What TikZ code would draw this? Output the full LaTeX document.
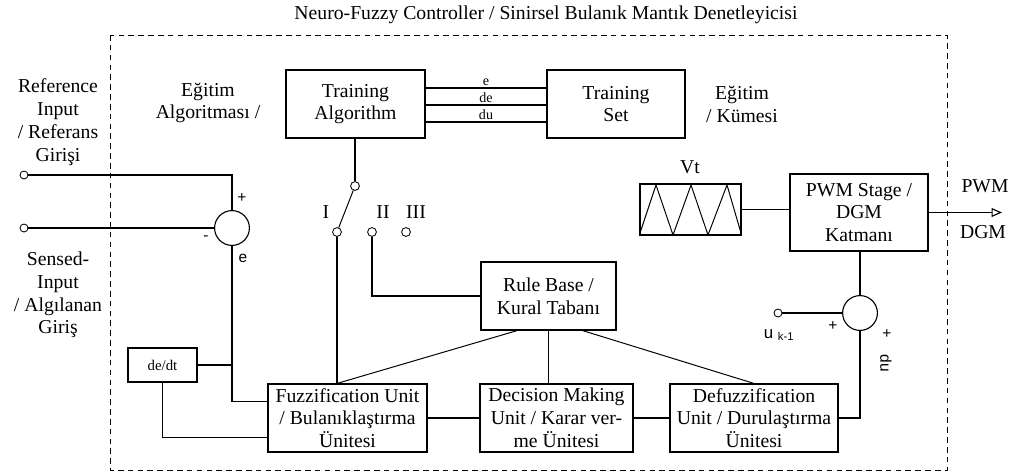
\documentclass[tikz,border=0pt]{standalone}
\usepackage{fontspec}
\setmainfont{Liberation Serif}
\setsansfont{Liberation Sans}
\usetikzlibrary{arrows.meta,positioning,calc}

\tikzset{
  blockbox/.style 2 args={rectangle, draw, line width=0.8pt, align=center, inner sep=0pt,
    minimum width=#1*0.025cm, minimum height=#2*0.025cm},
  sumnode/.style={circle, draw, line width=0.8pt, minimum size=0.87cm, inner sep=0pt},
  termnode/.style={circle, draw, line width=0.6pt, minimum size=0.2cm, inner sep=0pt},
  wire/.style={line width=0.8pt},
  signlbl/.style={font=\sffamily\fontsize{11}{12}\selectfont, inner sep=0pt},
  siglbl/.style={font=\fontsize{10}{10}\selectfont, inner sep=1pt},
}

\begin{document}
\begin{tikzpicture}[x=0.025cm, y=-0.025cm, font=\fontsize{14}{16.2}\selectfont]
\useasboundingbox (0,0) rectangle (1010,475);

% controller frame
\draw[line width=0.7pt, dash pattern=on 4pt off 3pt] (110,35) rectangle (947,470);
\node (title) at (546,15) {Neuro-Fuzzy Controller / Sinirsel Bulanık Mantık Denetleyicisi};

% input side
\node[align=center] (refin) at (58,122) {Reference\\Input\\/ Referans\\Girişi};
\node[align=center] (sensin) at (58,295) {Sensed-\\Input\\/ Algılanan\\Giriş};
\node[termnode] (in1) at (24,175) {};
\node[termnode] (in2) at (24,228) {};
\node[sumnode] (sum1) at (232,228) {};
\node[signlbl] (plus1) at (242,198) {+};
\node[signlbl] (minus1) at (206,238) {-};
\node[signlbl] (elbl) at (243,258) {e};
\node[blockbox={69}{34}, font=\fontsize{10.5}{12}\selectfont] (dedt) at (162.5,365) {de/dt};

% training part
\node[align=center] (egalg) at (208,103) {Eğitim\\Algoritması /};
\node[blockbox={139}{68}] (trainalg) at (355.5,104) {Training\\Algorithm};
\node[blockbox={138}{68}] (trainset) at (616,104) {Training\\Set};
\node[align=center] (egset) at (742,104) {Eğitim\\/ Kümesi};

% switch
\node[termnode, minimum size=0.22cm] (pivot) at (355,186) {};
\node[termnode, minimum size=0.22cm] (swI) at (337,232) {};
\node[termnode, minimum size=0.22cm] (swII) at (372,232) {};
\node[termnode, minimum size=0.22cm] (swIII) at (406,232) {};
\node (lblI) at (326,212) {I};
\node (lblII) at (383,212) {II};
\node (lblIII) at (416,212) {III};

% fuzzy core
\node[blockbox={135}{68}] (ruleb) at (548.5,296) {Rule Base /\\Kural Tabanı};
\node[blockbox={159}{68}] (fuzz) at (347.5,418) {Fuzzification Unit\\/ Bulanıklaştırma\\Ünitesi};
\node[blockbox={153}{68}] (decis) at (556.5,418) {Decision Making\\Unit / Karar ver-\\me Ünitesi};
\node[blockbox={168}{68}] (defuzz) at (754,418) {Defuzzification\\Unit / Durulaştırma\\Ünitesi};

% output stage
\node[blockbox={101}{51}] (vt) at (690.5,209.5) {};
\node (vtlbl) at (690,167) {Vt};
\node[blockbox={138}{77}] (pwm) at (859,212.5) {PWM Stage /\\DGM\\Katmanı};
\node[sumnode] (sum2) at (860,313) {};
\node[termnode] (uk) at (778,313) {};
\node[font=\sffamily\fontsize{12}{13}\selectfont] (uklbl) at (779,335) {u \textsubscript{k-1}};
\node[signlbl] (plus2) at (833,326) {+};
\node[signlbl] (plus3) at (887,334) {+};
\node[signlbl, rotate=-90] (dulbl) at (886,363) {du};
\coordinate (pwmout) at (1002,212.5);
\node (pwmlbl) at (985,186) {PWM};
\node (dgmlbl) at (983,232) {DGM};

% triangle carrier
\draw[line width=0.7pt] (640,233) -- (656,185) -- (673,235) -- (691,185) -- (708,235) -- (727,185) -- (741,233);

% connectors
\draw[wire] (in1.east) -| (sum1.north);
\draw[wire] (in2.east) -- (sum1.west);
\draw[wire] (sum1.south) |- ($(fuzz.north west)!0.265!(fuzz.south west)$);
\draw[wire] (dedt.east) -- (sum1.south |- dedt.east);
\draw[wire] (dedt.south) |- ($(fuzz.north west)!0.78!(fuzz.south west)$);
\foreach \yy/\sig in {88/e,105/de,122/du}
  \draw[wire] (trainalg.east |- 0,\yy) -- node[siglbl, above] {\sig} (trainset.west |- 0,\yy);
\draw[wire] (trainalg.south -| pivot) -- (pivot);
\draw[line width=0.7pt] (pivot) -- (swI);
\draw[wire] (swI.south) -- (swI.south |- fuzz.north);
\draw[wire] (swII.south) |- (ruleb.west);
\draw[line width=0.7pt] ($(ruleb.south west)!0.27!(ruleb.south east)$) -- (swI.south |- fuzz.north);
\draw[wire] (ruleb.south) -- (ruleb.south |- decis.north);
\draw[line width=0.7pt] ($(ruleb.south west)!0.75!(ruleb.south east)$) -- (defuzz.north);
\draw[wire] (fuzz) -- (decis);
\draw[wire] (decis) -- (defuzz);
\draw[wire] (defuzz.east) -| (sum2.south);
\draw[wire] (uk.east) -- (sum2.west);
\draw[wire] (sum2.north) -- (sum2.north |- pwm.south);
\draw[wire] (vt.east) -- (vt.east -| pwm.west);
\draw[wire, -{Triangle[open, length=2.6mm, width=2.2mm]}] (pwm.east) -- (pwmout);
\end{tikzpicture}
\end{document}
